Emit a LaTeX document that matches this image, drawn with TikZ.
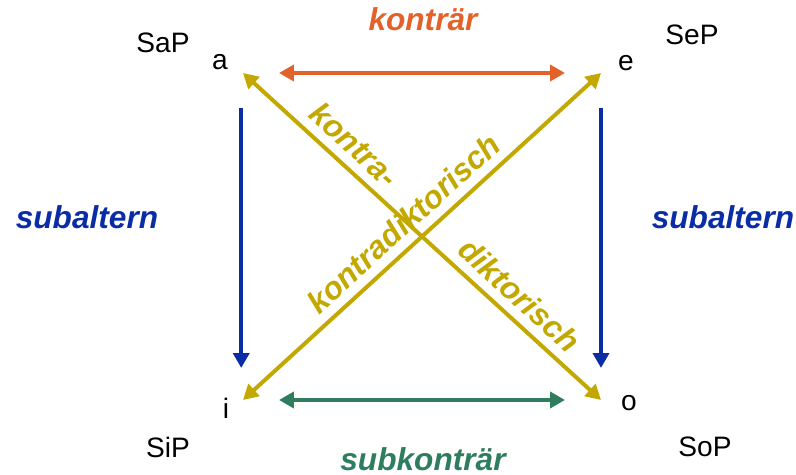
\documentclass[tikz,border=0pt]{standalone}
\usepackage{fontspec}
\setmainfont{Liberation Sans}
\usetikzlibrary{arrows.meta}
\definecolor{qorange}{RGB}{226, 98, 42}
\definecolor{qyellow}{RGB}{194, 168, 0}
\definecolor{qblue}{RGB}{10, 45, 165}
\definecolor{qgreen}{RGB}{46, 125, 94}

\begin{document}
\begin{tikzpicture}[x=0.02cm, y=-0.02cm,
  every node/.style={inner sep=3pt},
  corner/.style={font=\fontsize{16}{19}\selectfont},
  rel/.style={font=\fontsize{18}{21}\selectfont\bfseries\itshape, text=#1},
  dbl/.style={{Triangle[length=0.3cm, width=0.32cm]}-{Triangle[length=0.3cm, width=0.32cm]},
              line width=0.08cm, draw=#1},
  one/.style={-{Triangle[length=0.3cm, width=0.32cm]}, line width=0.08cm, draw=#1},
  diag/.style={rel=qyellow, sloped, above, inner sep=5pt}
]
\useasboundingbox (0,0) rectangle (796,475);

% Corners
\node[corner] (sap) at (163,43)  {SaP};
\node[corner] (a)   at (220,62)  {a};
\node[corner] (sep) at (692,35)  {SeP};
\node[corner] (e)   at (626,63)  {e};
\node[corner] (i)   at (226,408) {i};
\node[corner] (sip) at (168,447) {SiP};
\node[corner] (o)   at (629,403) {o};
\node[corner] (sop) at (705,447) {SoP};

\coordinate (ca) at (243,73);
\coordinate (ce) at (601,73);
\coordinate (ci) at (243,400);
\coordinate (co) at (601,400);

% Relation names
\node[rel=qorange] (kon)  at (423,19)  {konträr};
\node[rel=qgreen]  (skon) at (423,459) {subkonträr};
\node[rel=qblue]   (subl) at (87,217)  {subaltern};
\node[rel=qblue]   (subr) at (723,217) {subaltern};

% Relations
\draw[dbl=qorange, shorten <=0.72cm, shorten >=0.72cm] (ca) -- (ce);
\draw[dbl=qgreen,  shorten <=0.72cm, shorten >=0.72cm] (ci) -- (co);
\draw[one=qblue, shorten <=0.7cm, shorten >=0.64cm] ([xshift=-1]ca) -- ([xshift=-1]ci);
\draw[one=qblue, shorten <=0.7cm, shorten >=0.64cm] (ce) -- (co);

\draw[dbl=qyellow] (ca) --
  node[diag, pos=0.27] (kt1) {kontra-}
  node[diag, pos=0.73] (kt2) {diktorisch} (co);
\draw[dbl=qyellow] (ci) --
  node[diag, pos=0.49] (kt3) {kontradiktorisch} (ce);

\end{tikzpicture}
\end{document}
